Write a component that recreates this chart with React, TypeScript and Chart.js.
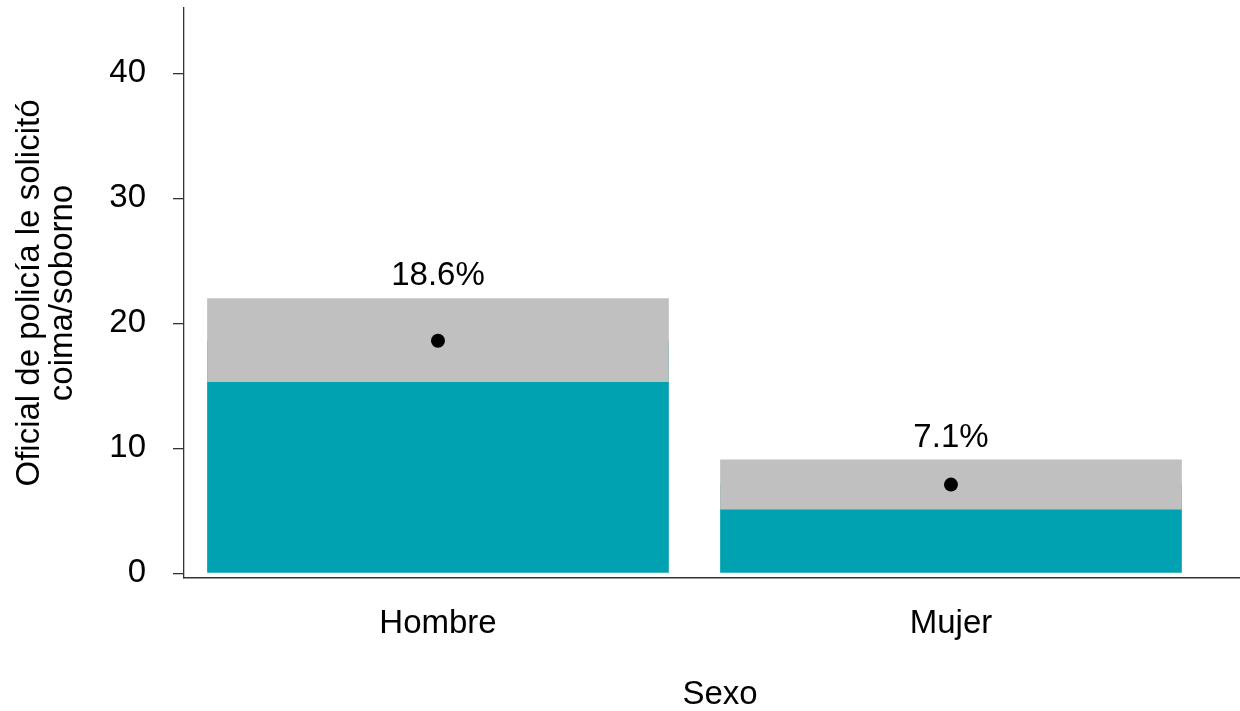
import React, { useEffect, useRef } from "react";
import { Chart, registerables } from "chart.js";

Chart.register(...registerables);

const categories = ["Hombre", "Mujer"];
const estimates = [18.6, 7.1];
const lowerCI = [15.3, 5.1];
const upperCI = [22.0, 9.1];
const yTicks = [0, 10, 20, 30, 40];
const yTitle = ["Oficial de policía le solicitó", "coima/soborno"];
const xTitle = "Sexo";

const FONT = "'Liberation Sans', Arial, sans-serif";
const FS = 33;
const TEAL = "#00A1B0";
const GREY = "#C0C0C0";
const AXIS = "#333333";

const labelPlugin = {
  id: "estimateLabels",
  afterLayout(chart: any) {
    // the reference panel runs slightly past the right edge; centre the x title on it
    const xs = chart.scales.x;
    if (xs) xs.right = xs.right + 16;
  },
  afterDatasetsDraw(chart: any) {
    const { ctx, scales } = chart;
    ctx.save();
    ctx.font = `${FS}px ${FONT}`;
    ctx.fillStyle = "#000";
    ctx.textAlign = "center";
    ctx.textBaseline = "alphabetic";
    estimates.forEach((v, i) => {
      const x = scales.x.getPixelForValue(i + 1);
      const y = scales.y.getPixelForValue(upperCI[i]) - 13;
      ctx.fillText(`${v.toFixed(1)}%`, x, y);
    });
    ctx.restore();
  },
};

export default function App() {
  const ref = useRef<HTMLCanvasElement | null>(null);
  useEffect(() => {
    if (!ref.current) return;
    const chart = new Chart(ref.current, {
      type: "bar",
      data: {
        datasets: [
          {
            type: "line",
            data: estimates.map((v, i) => ({ x: i + 1, y: v })),
            showLine: false,
            pointRadius: 7,
            pointBackgroundColor: "#000",
            pointBorderWidth: 0,
            order: 0,
          } as any,
          {
            type: "bar",
            data: categories.map((_, i) => ({ x: i + 1, y: [lowerCI[i], upperCI[i]] })),
            backgroundColor: GREY,
            borderWidth: 0,
            grouped: false,
            categoryPercentage: 1,
            barPercentage: 0.9,
            order: 1,
          } as any,
          {
            type: "bar",
            data: estimates.map((v, i) => ({ x: i + 1, y: v })),
            backgroundColor: TEAL,
            borderWidth: 0,
            grouped: false,
            categoryPercentage: 1,
            barPercentage: 0.9,
            order: 2,
          } as any,
        ],
      },
      options: {
        animation: false,
        responsive: true,
        maintainAspectRatio: false,
        layout: { autoPadding: false, padding: { top: 8, right: 0, left: 0, bottom: 0 } },
        plugins: { legend: { display: false }, tooltip: { enabled: false } },
        scales: {
          x: {
            type: "linear",
            offset: false,
            min: 0.5049,
            max: 2.5634,
            afterBuildTicks: (s: any) => {
              s.ticks = categories.map((_, i) => ({ value: i + 1 }));
            },
            afterFit: (s: any) => {
              s.height = 133;
              s.paddingLeft = 0;
              s.paddingRight = 0;
            },
            grid: { display: false },
            border: { display: true, color: AXIS, width: 1.5 },
            ticks: {
              font: { family: FONT, size: FS },
              color: "#000",
              padding: 18,
              maxRotation: 0,
              callback: (v: any) => categories[Number(v) - 1] ?? "",
            },
            title: {
              display: true,
              text: xTitle,
              font: { family: FONT, size: FS, lineHeight: 1 },
              color: "#000",
              padding: 0,
            },
          },
          y: {
            type: "linear",
            min: -0.37,
            max: 45.22,
            afterBuildTicks: (s: any) => {
              s.ticks = yTicks.map((v) => ({ value: v }));
            },
            afterFit: (s: any) => {
              s.width = 184;
              s.paddingTop = 0;
              s.paddingBottom = 0;
            },
            grid: {
              display: true,
              drawOnChartArea: false,
              drawTicks: true,
              tickLength: 11,
              color: AXIS,
              lineWidth: 1.3,
            },
            border: { display: true, color: AXIS, width: 1.3 },
            ticks: {
              font: { family: FONT, size: FS },
              color: "#000",
              padding: 27,
            },
            title: {
              display: true,
              text: yTitle,
              font: { family: FONT, size: FS, lineHeight: 1.0 },
              color: "#000",
              padding: { top: 13.5, bottom: 0 },
            },
          },
        },
      } as any,
      plugins: [labelPlugin],
    });
    return () => chart.destroy();
  }, []);
  return (
    <div style={{ position: "fixed", left: 0, top: 0, width: 1240, height: 711, background: "#fff" }}>
      <canvas ref={ref} />
    </div>
  );
}
